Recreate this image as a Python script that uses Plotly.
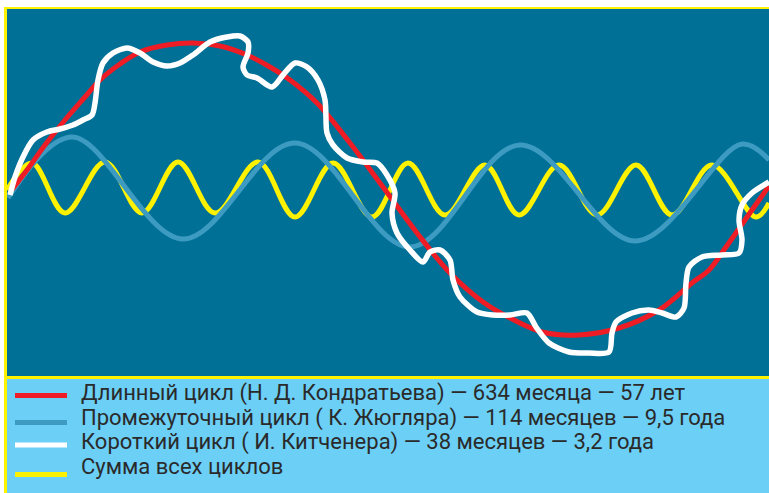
import plotly.graph_objects as go

# ---- data (x: time units along the chart, y: cycle amplitude) ----
red_x = [3, 20, 38, 58, 78, 93, 113, 133, 160, 186, 213, 240, 263, 283, 310, 343, 376, 410, 443, 476, 503, 535, 572, 612, 652, 685, 702, 719, 745, 762]
red_y = [-4, 18, 43, 68, 91, 108, 124, 136, 143, 145, 142, 133, 121, 108, 85, 45, 1, -45, -85, -114, -130, -144, -147, -140, -122, -95, -82, -59, -22, 2]

blue_x = [1, 65, 176, 288, 403, 513, 629, 735, 762]
blue_y = [-10, 51, -51, 45, -59, 43, -53, 44, 28]

yel_x = [0, 25, 58, 98, 135, 171, 208, 251, 288, 326, 365, 401, 438, 478, 512, 552, 590, 629, 665, 705, 749, 762]
yel_y = [-2, 25, -25, 26, -25, 26, -25, 26, -29, 25, -29, 25, -27, 23, -27, 23, -27, 23, -27, 23, -29, -15]

white_x = [3, 8, 16, 26, 40, 53, 66, 76, 85, 88, 91, 96, 106, 120, 133, 146, 160, 173, 186, 203, 220, 233, 241, 241, 236, 240, 250, 265, 276, 288, 300, 311, 318, 320, 326, 340, 356, 370, 380, 388, 385, 390, 403, 416, 423, 433, 443, 446, 453, 470, 486, 503, 520, 529, 542, 562, 582, 602, 605, 609, 625, 642, 655, 669, 677, 679, 682, 695, 715, 732, 735, 732, 735, 745, 762]
white_y = [-7, 11, 31, 48, 56, 59, 63, 68, 73, 85, 108, 125, 135, 140, 135, 126, 122, 125, 133, 146, 151, 152, 146, 135, 121, 113, 110, 101, 113, 125, 121, 108, 88, 55, 43, 30, 26, 25, 13, -5, -25, -45, -62, -74, -64, -62, -72, -92, -109, -124, -127, -127, -125, -139, -155, -164, -165, -164, -145, -134, -125, -122, -125, -129, -120, -95, -79, -69, -67, -65, -52, -32, -17, -5, 6]

legend_labels = [
    "Длинный цикл (Н. Д. Кондратьева) — 634 месяца — 57 лет",
    "Промежуточный цикл ( К. Жюгляра) — 114 месяцев — 9,5 года",
    "Короткий цикл ( И. Китченера) — 38 месяцев — 3,2 года",
    "Сумма всех циклов",
]
legend_colors = ["#EE1D25", "#3D9BC2", "#FFFFFF", "#FFF200"]
legend_line_rows = [0.04, 1.14, 2.05, 3.25]
legend_text_rows = [0, 1, 2, 3]
legend_line_x = [8, 60]
legend_text_x = 74

W, H = 769, 493
TEAL = "#007096"
YELLOW = "#FFF200"
LEGEND_BG = "#6CCFF6"

fig = go.Figure()

# main chart traces (yellow under blue under red under white)
fig.add_trace(go.Scatter(x=yel_x, y=yel_y, mode="lines", line=dict(color="#FFF200", width=5, shape="spline", smoothing=1.0), hoverinfo="skip"))
fig.add_trace(go.Scatter(x=blue_x, y=blue_y, mode="lines", line=dict(color="#3D9BC2", width=5, shape="spline", smoothing=1.0), hoverinfo="skip"))
fig.add_trace(go.Scatter(x=red_x, y=red_y, mode="lines", line=dict(color="#EE1D25", width=5, shape="spline", smoothing=1.0), hoverinfo="skip"))
fig.add_trace(go.Scatter(x=white_x, y=white_y, mode="lines", line=dict(color="#FFFFFF", width=5.5, shape="spline", smoothing=0.8), hoverinfo="skip"))

# legend drawn on a second pair of axes
for lbl, col, row in zip(legend_labels, legend_colors, legend_line_rows):
    fig.add_trace(go.Scatter(x=legend_line_x, y=[row, row], mode="lines", line=dict(color=col, width=5),
                             xaxis="x2", yaxis="y2", hoverinfo="skip"))
fig.add_trace(go.Scatter(x=[legend_text_x] * len(legend_labels), y=legend_text_rows, text=legend_labels,
                         mode="text", textposition="middle right",
                         textfont=dict(family="Roboto", size=22, color="#2A2A2A"),
                         xaxis="x2", yaxis="y2", hoverinfo="skip"))

def py(p):
    return 1 - p / H

def px(p):
    return p / W

shapes = [
    dict(type="rect", xref="paper", yref="paper", x0=px(4), x1=1, y0=0, y1=py(7), fillcolor=YELLOW, line_width=0, layer="below"),
    dict(type="rect", xref="paper", yref="paper", x0=px(7), x1=1, y0=py(376), y1=py(9), fillcolor=TEAL, line_width=0, layer="below"),
    dict(type="rect", xref="paper", yref="paper", x0=px(7), x1=1, y0=0, y1=py(379), fillcolor=LEGEND_BG, line_width=0, layer="below"),
]

axis_off = dict(visible=False, showgrid=False, zeroline=False, fixedrange=True)
fig.update_layout(
    width=W, height=H,
    margin=dict(l=0, r=0, t=0, b=0),
    paper_bgcolor="white",
    plot_bgcolor="rgba(0,0,0,0)",
    showlegend=False,
    shapes=shapes,
    xaxis=dict(domain=[px(7), 1], range=[0, 762], **axis_off),
    yaxis=dict(domain=[py(375.5), py(9)], range=[-187.5, 179], **axis_off),
    xaxis2=dict(domain=[px(7), 1], range=[0, 762], anchor="y2", **axis_off),
    yaxis2=dict(domain=[0, py(379)], range=[4.004, -0.630], anchor="x2", **axis_off),
)

fig.write_html(
    "out.html",
    config={"displayModeBar": False},
    post_script="document.body.style.margin='0';document.body.style.overflow='hidden';",
)
